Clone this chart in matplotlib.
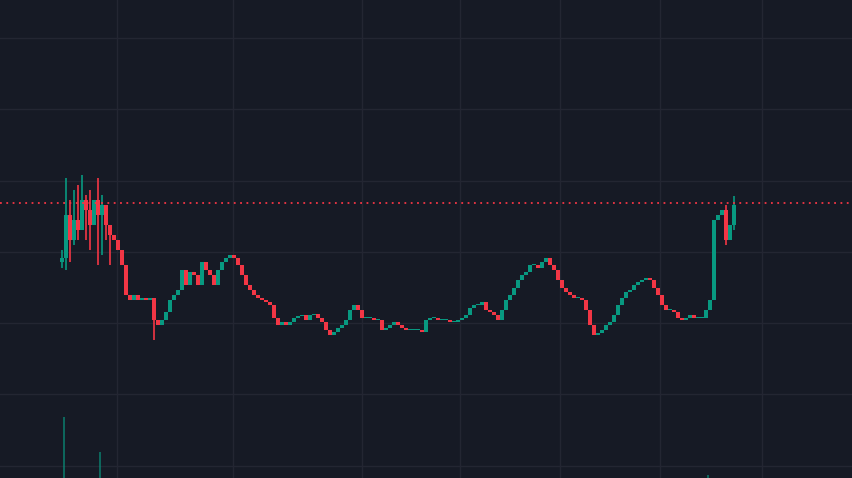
import matplotlib
matplotlib.use("Agg")
import matplotlib.pyplot as plt
import numpy as np

# closes read as screen rows (top=0); converted to price below
close_rows = [
    258, 215, 240, 220, 230, 200, 210, 225, 200, 215, 205, 225, 235, 240, 250, 265,
    295, 300, 295, 300, 298, 300, 298, 320, 325, 320, 312, 300, 295, 290, 270, 285,
    272, 275, 285, 262, 270, 275, 285, 270, 262, 258, 255, 258, 265, 275, 285, 290,
    295, 298, 300, 302, 305, 318, 325, 322, 325, 322, 318, 316, 315, 320, 315, 314,
    318, 322, 330, 335, 332, 328, 325, 320, 310, 305, 310, 318, 318, 318, 320, 320,
    330, 328, 325, 322, 325, 328, 330, 330, 330, 330, 332, 320, 318, 318, 320, 320,
    320, 322, 322, 320, 318, 315, 308, 305, 305, 302, 310, 312, 315, 320, 310, 300,
    295, 288, 280, 275, 272, 265, 265, 268, 262, 258, 265, 270, 280, 288, 292, 295,
    298, 298, 300, 310, 325, 335, 333, 330, 325, 322, 315, 305, 298, 292, 290, 285,
    282, 280, 278, 280, 288, 295, 305, 310, 310, 312, 318, 320, 318, 315, 318, 318,
    318, 310, 300, 220, 215, 210, 240, 225, 205,
]
first_open_row = 262
# extra wicks: candle index -> (high row, low row)
wicks = {0: (250, 268), 1: (178, 270), 2: (200, 262), 3: (190, 245), 4: (185, 240),
         5: (175, 230), 6: (195, 240), 7: (190, 250), 9: (178, 265), 10: (195, 255),
         11: (210, 240), 12: (225, 265), 23: (315, 340), 166: (205, 245), 168: (196, 230)}
volume_rows = {1: 417, 10: 452, 162: 475}
last_price_row = 203

H = 478
closes = np.array([H - r for r in close_rows], dtype=float)
opens = np.concatenate([[H - first_open_row], closes[:-1]])
xs = 60 + 4 * np.arange(len(closes))

up_col, dn_col = "#089981", "#f23645"
bg = "#161a25"

fig = plt.figure(figsize=(8.52, 4.78), dpi=100)
fig.patch.set_facecolor(bg)
ax = fig.add_axes([0, 0, 1, 1])
ax.set_facecolor(bg)
ax.set_xlim(0, 852)
ax.set_ylim(0, H)
for gx in [117, 233, 362, 460, 560, 660, 762]:
    ax.axvline(gx, color="#232632", lw=1, zorder=0)
for gy in [38, 109, 181, 252, 323, 394, 466]:
    ax.axhline(H - gy, color="#232632", lw=1, zorder=0)

colors = [up_col if c >= o else dn_col for o, c in zip(opens, closes)]
bottoms = np.minimum(opens, closes)
heights = np.maximum(np.abs(closes - opens), 1.2)
ax.bar(xs, heights, bottom=bottoms, width=4, color=colors, align="edge", lw=0, zorder=3)
for i, (hr, lr) in wicks.items():
    ax.vlines(xs[i] + 2, H - lr, H - hr, color=colors[i], lw=1.2, zorder=3)

for i, r in volume_rows.items():
    ax.bar(xs[i], H - r, bottom=0, width=1.5, color=colors[i], alpha=0.6, zorder=2)

ax.axhline(H - last_price_row, color=dn_col, lw=1.3, ls=(0, (1, 2.5)), zorder=4)
ax.axis("off")
fig.savefig("out.png", dpi=100, facecolor=bg)
